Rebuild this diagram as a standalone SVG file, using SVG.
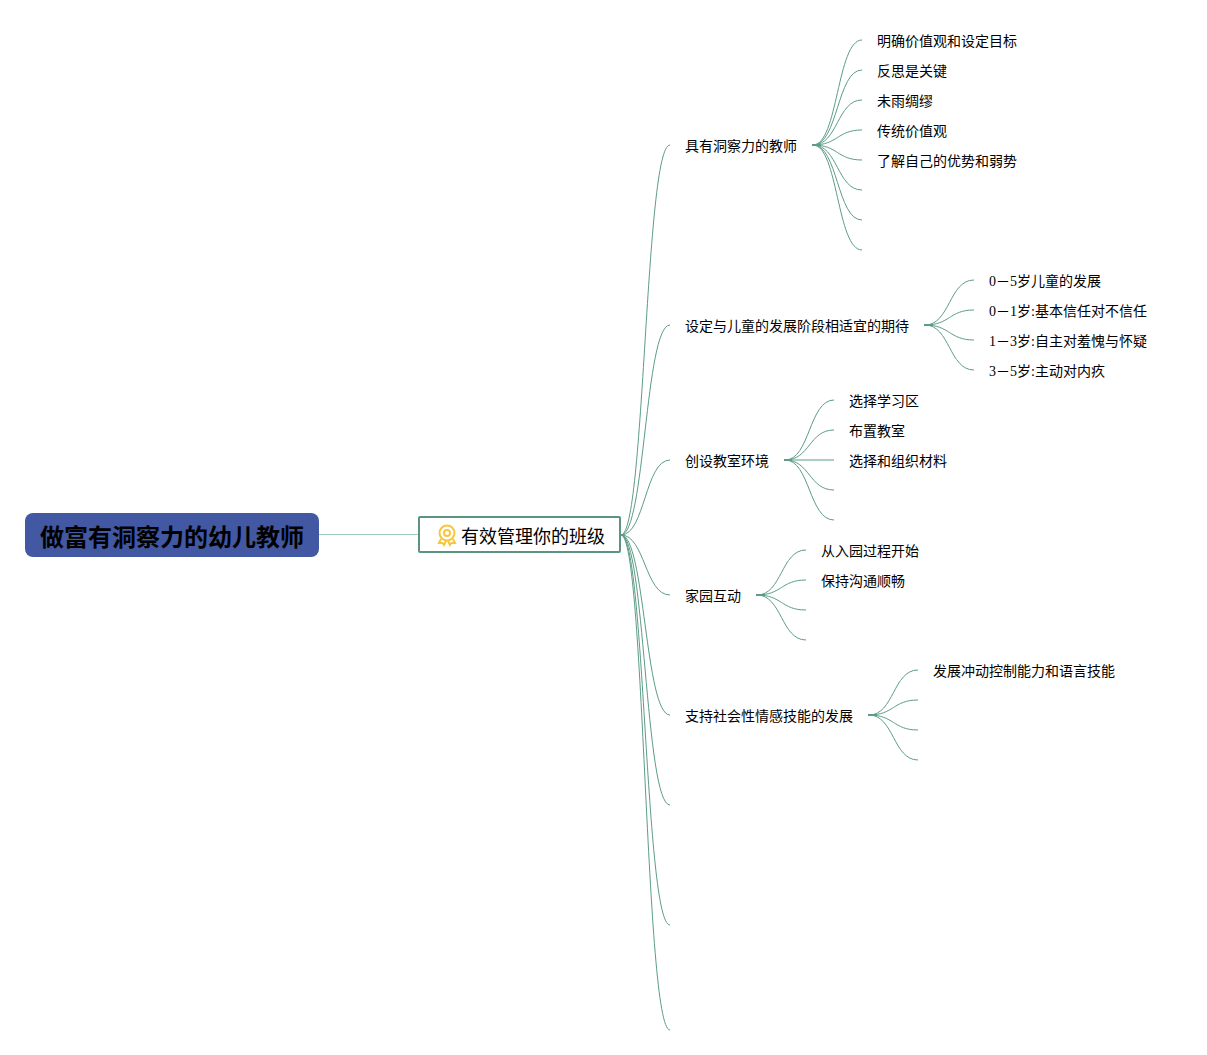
<svg xmlns="http://www.w3.org/2000/svg" width="1207" height="1055" viewBox="0 0 1207 1055">
<style>
text{font-family:"Liberation Serif","Noto Sans CJK SC",serif;font-size:14px;fill:#000}
.c{fill:none;stroke:#5c9c88;stroke-width:1}
.s{fill:none;stroke:#5c9c88;stroke-width:2}
</style>
<rect width="1207" height="1055" fill="#fff"/>
<g id="connectors">
<path d="M319 534.500H418" fill="none" stroke="#9fcabd" stroke-width="1"/>
<path class="c" d="M621 535C645 535 645 145 670 145"/>
<path class="c" d="M621 535C645 535 645 325 670 325"/>
<path class="c" d="M621 535C645 535 645 460 670 460"/>
<path class="c" d="M621 535C645 535 645 595 670 595"/>
<path class="c" d="M621 535C645 535 645 715 670 715"/>
<path class="c" d="M621 535C645 535 645 805 670 805"/>
<path class="c" d="M621 535C645 535 645 925 670 925"/>
<path class="c" d="M621 535C645 535 645 1030 670 1030"/>
<path class="s" d="M812 145H820"/>
<path class="c" d="M813 145C838 145 837 40 862 40"/>
<path class="c" d="M813 145C838 145 837 70 862 70"/>
<path class="c" d="M813 145C838 145 837 100 862 100"/>
<path class="c" d="M813 145C838 145 837 130 862 130"/>
<path class="c" d="M813 145C838 145 837 160 862 160"/>
<path class="c" d="M813 145C838 145 837 190 862 190"/>
<path class="c" d="M813 145C838 145 837 220 862 220"/>
<path class="c" d="M813 145C838 145 837 250 862 250"/>
<path class="s" d="M924 325H932"/>
<path class="c" d="M925 325C950 325 949 280 974 280"/>
<path class="c" d="M925 325C950 325 949 310 974 310"/>
<path class="c" d="M925 325C950 325 949 340 974 340"/>
<path class="c" d="M925 325C950 325 949 370 974 370"/>
<path class="s" d="M784 460H792"/>
<path class="c" d="M785 460C810 460 809 400 834 400"/>
<path class="c" d="M785 460C810 460 809 430 834 430"/>
<path class="c" d="M785 460H834"/>
<path class="c" d="M785 460C810 460 809 490 834 490"/>
<path class="c" d="M785 460C810 460 809 520 834 520"/>
<path class="s" d="M756 595H764"/>
<path class="c" d="M757 595C782 595 781 550 806 550"/>
<path class="c" d="M757 595C782 595 781 580 806 580"/>
<path class="c" d="M757 595C782 595 781 610 806 610"/>
<path class="c" d="M757 595C782 595 781 640 806 640"/>
<path class="s" d="M868 715H876"/>
<path class="c" d="M869 715C894 715 893 670 918 670"/>
<path class="c" d="M869 715C894 715 893 700 918 700"/>
<path class="c" d="M869 715C894 715 893 730 918 730"/>
<path class="c" d="M869 715C894 715 893 760 918 760"/>
</g>
<g id="root"><rect x="25" y="513" width="294" height="44" rx="8" fill="#4258a2"/><text x="40" y="546" style="font-size:24px;font-weight:700">做富有洞察力的幼儿教师</text></g>
<g id="main"><rect x="419" y="517" width="201" height="35" rx="1" fill="#fff" stroke="#5c9482" stroke-width="2"/>
<g fill="none" stroke="#f6c63f" stroke-width="2"><circle cx="447" cy="533" r="7.500"/><circle cx="447" cy="533" r="3"/><path d="M441 539L439 543L442.500 543L444 545L446 541M453 539L455 543L451.500 543L450 545L448 541"/></g>
<text x="461" y="543" style="font-size:18px">有效管理你的班级</text></g>
<g id="n1"><text x="685" y="151">具有洞察力的教师</text></g>
<g id="n1a"><text x="877" y="46">明确价值观和设定目标</text></g>
<g id="n1b"><text x="877" y="76">反思是关键</text></g>
<g id="n1c"><text x="877" y="106">未雨绸缪</text></g>
<g id="n1d"><text x="877" y="136">传统价值观</text></g>
<g id="n1e"><text x="877" y="166">了解自己的优势和弱势</text></g>
<g id="n2"><text x="685" y="331">设定与儿童的发展阶段相适宜的期待</text></g>
<g id="n2a"><text x="989" y="286">0－5岁儿童的发展</text></g>
<g id="n2b"><text x="989" y="316">0－1岁:基本信任对不信任</text></g>
<g id="n2c"><text x="989" y="346">1－3岁:自主对羞愧与怀疑</text></g>
<g id="n2d"><text x="989" y="376">3－5岁:主动对内疚</text></g>
<g id="n3"><text x="685" y="466">创设教室环境</text></g>
<g id="n3a"><text x="849" y="406">选择学习区</text></g>
<g id="n3b"><text x="849" y="436">布置教室</text></g>
<g id="n3c"><text x="849" y="466">选择和组织材料</text></g>
<g id="n4"><text x="685" y="601">家园互动</text></g>
<g id="n4a"><text x="821" y="556">从入园过程开始</text></g>
<g id="n4b"><text x="821" y="586">保持沟通顺畅</text></g>
<g id="n5"><text x="685" y="721">支持社会性情感技能的发展</text></g>
<g id="n5a"><text x="933" y="676">发展冲动控制能力和语言技能</text></g>
</svg>
